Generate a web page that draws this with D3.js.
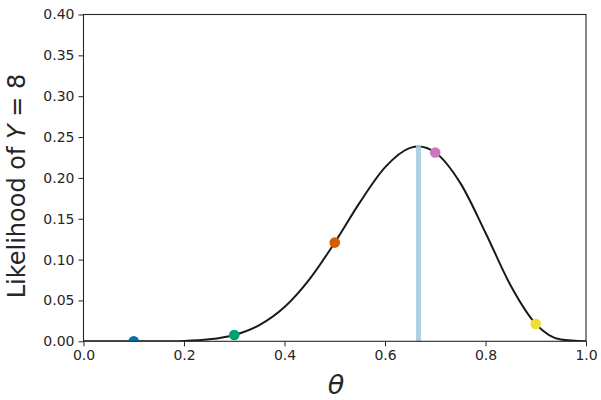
<!DOCTYPE html>
<html><head><meta charset="utf-8">
<script src="https://cdn.jsdelivr.net/npm/d3@7"></script>
<style>body{margin:0;background:#fff}svg{display:block}text{font-family:"DejaVu Sans",sans-serif}</style>
</head><body><svg id="c" width="601" height="400"></svg>
<script>
const thetaGrid = [0,0.05,0.1,0.15,0.2,0.25,0.3,0.35,0.4,0.45,0.5,0.55,0.6,0.65,0.6667,0.7,0.75,0.8,0.85,0.9,0.95,1.0];
const likelihood = [0,0,0.000003,0.000066,0.00052,0.0024,0.0078,0.0199,0.0420,0.0762,0.1208,0.1700,0.2128,0.2367,0.2384,0.2311,0.1936,0.1329,0.0683,0.0213,0.0021,0];
const pointTheta = [0.1,0.3,0.5,0.7,0.9];
const pointLik = [0.000003,0.0078,0.1208,0.2311,0.0213];
const pointColors = ["#0173b2","#029e73","#d55e00","#cc78bc","#ece133"];
const mleTheta = 0.6667, mleLik = 0.2384;
const xTicks = [0,0.2,0.4,0.6,0.8,1.0];
const yTicks = [0,0.05,0.1,0.15,0.2,0.25,0.3,0.35,0.4];

const svg = d3.select("#c");
const L=83.5, R=586, T=14.5, B=341.3;
const x = d3.scaleLinear().domain([0,1]).range([L,R]);
const y = d3.scaleLinear().domain([0,0.4]).range([B,T]);

svg.append("defs").append("clipPath").attr("id","clip").append("rect")
  .attr("x",L).attr("y",T).attr("width",R-L).attr("height",B-T);
const g = svg.append("g").attr("clip-path","url(#clip)");

const line = d3.line().x((d,i)=>x(thetaGrid[i])).y(d=>y(d)).curve(d3.curveMonotoneX);
g.append("path").attr("d",line(likelihood)).attr("fill","none").attr("stroke","#1a1a1a").attr("stroke-width",2);

g.append("line").attr("x1",x(mleTheta)).attr("x2",x(mleTheta)).attr("y1",y(0)).attr("y2",y(mleLik+0.002))
  .attr("stroke","#a6cee3").attr("stroke-width",5).attr("opacity",0.9);

g.selectAll("circle").data(pointTheta).join("circle")
  .attr("cx",d=>x(d)).attr("cy",(d,i)=>y(pointLik[i])).attr("r",5.3)
  .attr("fill",(d,i)=>pointColors[i]);

const xa = svg.append("g").attr("transform",`translate(0,${B})`)
  .call(d3.axisBottom(x).tickValues(xTicks).tickFormat(d3.format(".1f")).tickSize(5).tickPadding(4));
const ya = svg.append("g").attr("transform",`translate(${L},0)`)
  .call(d3.axisLeft(y).tickValues(yTicks).tickFormat(d3.format(".2f")).tickSize(5).tickPadding(4));
[xa,ya].forEach(a=>{a.selectAll("text").attr("font-size",14).attr("fill","#262626").attr("font-family","DejaVu Sans");
  a.selectAll("line").attr("stroke","#262626"); a.select(".domain").remove();});

svg.append("rect").attr("x",L).attr("y",T).attr("width",R-L).attr("height",B-T)
  .attr("fill","none").attr("stroke","#262626").attr("stroke-width",1.1);

svg.append("text").attr("x",336).attr("y",394).attr("text-anchor","middle")
  .attr("font-size",27).attr("font-style","italic").attr("fill","#262626").text("θ");

const yl = svg.append("text").attr("transform","translate(25,186) rotate(-90)")
  .attr("text-anchor","middle").attr("font-size",24).attr("fill","#262626");
yl.append("tspan").text("Likelihood of ");
yl.append("tspan").attr("font-style","italic").text("Y");
yl.append("tspan").text(" = 8");
</script></body></html>
